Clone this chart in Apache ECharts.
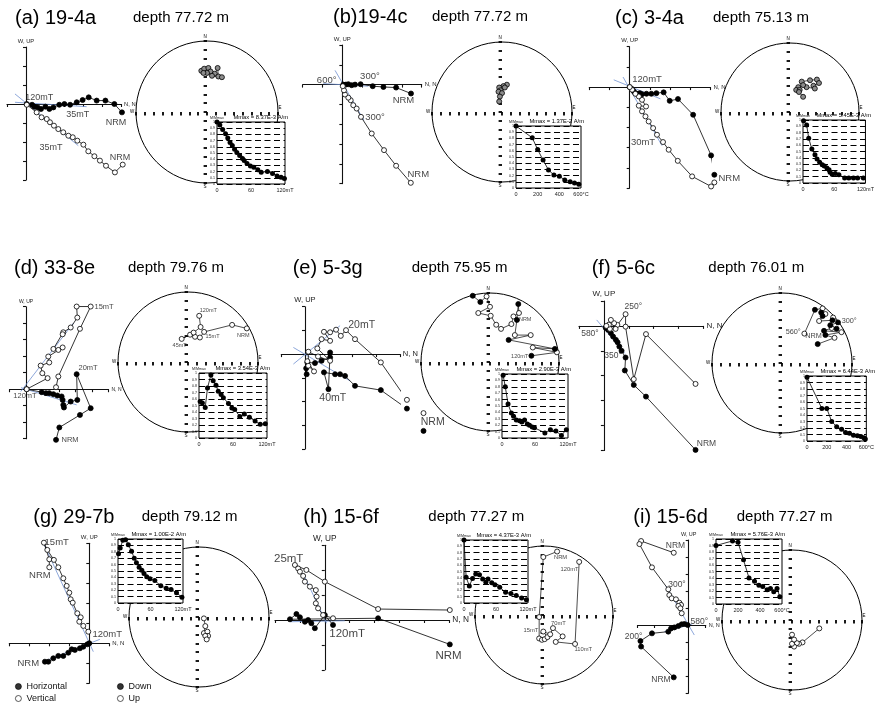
<!DOCTYPE html>
<html>
<head>
<meta charset="utf-8">
<script src="https://cdn.jsdelivr.net/npm/echarts@6/dist/echarts.min.js"></script>
<style>
  html, body { margin: 0; padding: 0; background: #fff; }
  #main { width: 877px; height: 708px; }
</style>
</head>
<body>
<div id="main"></div>
<script>
// ---- panel texts ----
var tags   = ['(a) 19-4a', '(b)19-4c', '(c) 3-4a', '(d) 33-8e', '(e) 5-3g', '(f) 5-6c', '(g) 29-7b', '(h) 15-6f', '(i) 15-6d'];
var depths = ['77.72', '77.72', '75.13', '79.76', '75.95', '76.01', '79.12', '77.27', '77.27'];
var mmax   = ['8.37E-3', '1.37E-2', '5.45E-3', '3.54E-3', '2.90E-3', '6.44E-3', '1.00E-2', '4.37E-3', '5.76E-3'];
var afTicks = [0, 60, 120];        // mT
var thTicks = [0, 200, 400, 600];  // °C
var intTicks = [0, 0.1, 1];        // min, step, max of M/Mmax
var netTicks = [-1, 0.125, 1];     // cross marks of the net

// ---- Zijderveld data (tick units): horizontal = filled, vertical = open ----
var horA = [[5.05,-0.44],[4.65,0],[4.18,0.18],[3.72,0.18],[3.3,0.35],[2.98,0.21],[2.67,0.09],[2.32,-0.04],[2.02,0],[1.75,-0.04],[1.44,-0.18],[1.23,-0.26],[1.02,-0.14],[0.79,-0.26],[0.61,-0.18],[0.44,-0.14],[0.32,-0.04],[0.04,0]];
var verA = [[5.09,-3.19],[4.68,-3.6],[4.21,-3.25],[3.89,-2.98],[3.6,-2.75],[3.28,-2.49],[3.02,-2.14],[2.7,-1.93],[2.46,-1.75],[2.23,-1.67],[1.96,-1.49],[1.7,-1.32],[1.47,-1.14],[1.26,-0.96],[1.09,-0.79],[0.82,-0.7],[0.56,-0.44],[0.04,-0.04]];
var fitA = [[[-0.58,0.53],[2.75,-2.19]],[[-0.58,0.09],[3.19,-0.14]]];
var labA = [[0.7,0.35,'120mT'],[2.72,-0.53,'35mT'],[4.74,-0.96,'NRM'],[1.32,-2.28,'35mT'],[4.95,-2.81,'NRM']];

var horB = [[3.46,-0.45],[2.71,-0.15],[2.07,-0.12],[1.53,-0.08],[0.92,0.02],[0.64,0],[0.47,-0.03],[0.3,0.02],[0.18,0],[0.05,0]];
var verB = [[3.45,-4.96],[2.71,-4.1],[2.1,-3.31],[1.48,-2.47],[0.94,-1.63],[0.72,-1.21],[0.55,-1.04],[0.42,-0.79],[0.3,-0.66],[0.13,-0.5],[0.08,-0.29],[0.02,-0.08]];
var fitB = [[[-0.37,0.72],[1.09,-1.8]],[[-0.96,0.05],[1.31,-0.08]]];
var labB = [[-0.79,0.22,'600°'],[1.39,0.42,'300°'],[3.08,-0.79,'NRM'],[1.65,-1.66,'300°'],[3.83,-4.52,'NRM']];

var horC = [[4.19,-4.34],[4.03,-3.38],[3.14,-1.37],[2.39,-0.59],[1.98,-0.68],[1.68,-0.26],[1.32,-0.3],[1.07,-0.33],[0.83,-0.33],[0.61,-0.35],[0.5,-0.3],[0.36,-0.33],[0.28,-0.3],[0.2,-0.21],[0.12,-0.1],[0,0]];
var verC = [[4.19,-4.72],[4.03,-4.92],[3.09,-4.42],[2.38,-3.65],[1.93,-3.1],[1.65,-2.72],[1.35,-2.36],[1.16,-2.03],[0.94,-1.7],[0.78,-1.45],[0.61,-1.2],[0.45,-0.92],[0.81,-0.96],[0.61,-0.63],[0.45,-0.46],[0.28,-0.33],[0.12,-0.13],[0,0]];
var fitC = [[[-0.33,0.5],[1.6,-2.9]],[[-0.79,0.36],[1.52,-0.58]]];
var labC = [[0.86,0.36,'120mT'],[0.66,-2.74,'30mT'],[4.93,-4.5,'NRM']];

var horD = [[1.82,-3.07],[2.02,-2.32],[3.27,-1.56],[3.92,-1.15],[3.07,0.91],[3.11,-0.65],[2.71,-0.75],[2.3,-1.11],[2.26,-0.95],[2.22,-0.65],[2.16,-0.44],[1.9,-0.38],[1.66,-0.3],[1.41,-0.24],[1.21,-0.24],[0.95,-0.18],[0.04,0]];
var verD = [[1.82,0.12],[1.96,0.77],[3.27,3.66],[3.92,5.01],[3.07,5.01],[3.11,4.34],[2.71,3.74],[2.26,3.45],[2.22,3.33],[1.66,2.44],[1.96,2.38],[2.22,2.53],[1.35,1.98],[1.41,1.62],[0.89,1.43],[0.99,0.97],[1.31,0.67],[0.04,0]];
var fitD = [[[-0.32,-0.14],[2.87,4.0]],[[-0.3,0.09],[3.07,-0.95]]];
var labD = [[4.73,5.01,'15mT'],[3.76,1.31,'20mT'],[-0.06,-0.38,'120mT'],[2.67,-3.07,'NRM']];

var horE = [[5.0,-3.24],[4.3,-2.3],[3.2,-1.52],[2.11,-1.34],[1.69,-0.92],[1.48,-0.85],[1.27,-0.85],[0.8,-0.77],[0.99,-1.48],[1.06,0.07],[1.06,-0.14],[0.7,-0.28],[0.42,-0.38],[0.1,-0.35],[0.07,-0.85],[0.05,-0.6]];
var verE = [[5.0,-2.49],[4.3,-1.93],[3.2,-0.35],[2.11,0.63],[1.73,1.01],[1.51,0.77],[1.31,1.03],[1.06,0.92],[0.8,0.94],[1.06,0.56],[0.7,0.63],[0.52,0.24],[1.06,-0.28],[0.55,-0.1],[0.14,0.1],[0.14,-0.49],[0.38,-0.73],[0.1,-0.3]];
var fitE = [[[-0.49,-0.42],[1.48,1.2]],[[-0.49,0.28],[1.9,-1.13]]];
var labE = [[2.39,1.23,'20mT'],[1.17,-1.87,'40mT'],[5.39,-2.89,'NRM']];

var horF = [[3.68,-4.98],[1.69,-2.84],[1.2,-2.37],[0.84,-1.79],[0.87,-1.27],[0.71,-1.0],[0.62,-0.83],[0.55,-0.66],[0.48,-0.56],[0.37,-0.43],[0.28,-0.29],[0.17,-0.16],[0.07,-0.07]];
var verF = [[3.68,-2.33],[1.69,-0.33],[1.2,-2.14],[0.87,-0.03],[0.87,0.47],[0.54,0.04],[0.41,0.11],[0.28,0.24],[0.47,-0.12],[0.24,-0.12],[0.2,0.05],[0.1,0]];
var fitF = [[[-0.29,0.24],[0.84,-1.1]]];
var labF = [[1.18,0.78,'250°'],[-0.56,-0.33,'580°'],[0.37,-1.19,'350°'],[4.12,-4.71,'NRM']];

var horG = [[-2.22,-0.92],[-2.05,-0.92],[-1.8,-0.75],[-1.55,-0.63],[-1.3,-0.63],[-1.05,-0.47],[-0.88,-0.3],[-0.72,-0.33],[-0.47,-0.25],[-0.3,-0.17],[-0.1,-0.05],[0,0]];
var verG = [[-2.0,3.8],[-2.0,4.2],[-2.27,5.03],[-2.1,4.67],[-1.77,4.17],[-1.55,3.8],[-1.3,3.25],[-1.13,2.87],[-1.0,2.53],[-0.93,2.2],[-0.83,2.03],[-0.6,1.5],[-0.43,1.3],[-0.5,1.08],[-0.3,0.87],[-0.05,0.58]];
var fitG = [[[-2.27,4.97],[0.2,-0.42]],[[-2.3,-0.92],[0.53,0.2]]];
var labG = [[-1.63,5.03,'15mT'],[-2.47,3.42,'NRM'],[0.9,0.47,'120mT'],[-3.05,-1.0,'NRM']];

var horH = [[5.02,-0.98],[2.14,0.07],[-1.4,0.03],[-1.14,0.24],[-1.0,0.11],[-0.8,-0.07],[-0.67,0],[-0.54,-0.13],[-0.4,-0.33],[0,0.2],[0.33,-0.2]];
var verH = [[5.02,0.4],[2.14,0.44],[0,1.54],[-0.74,2.01],[-1.2,2.21],[-1.07,2.07],[-1.0,1.94],[-0.87,1.77],[-0.8,1.54],[-0.6,1.34],[-0.36,1.2],[-0.33,0.94],[-0.36,0.67],[-0.27,0.47],[-0.07,0.2],[0.33,0.07]];
var fitH = [[[-0.87,1.87],[0.07,-0.13]],[[-1.4,-0.07],[0.8,-0.03]]];
var labH = [[-1.45,2.45,'25mT'],[0.9,-0.56,'120mT'],[4.97,-1.45,'NRM']];

var horI = [[-0.88,-3.08],[-2.8,-1.27],[-2.84,-0.94],[-2.16,-0.49],[-1.2,-0.39],[-1.04,-0.2],[-0.84,-0.14],[-0.61,-0.06],[-0.41,0.04],[-0.25,0.06],[-0.06,0]];
var verI = [[-0.88,4.25],[-2.8,4.94],[-2.9,4.76],[-2.16,3.39],[-1.2,2.1],[-1.14,1.76],[-1.0,1.57],[-0.75,1.51],[-0.55,1.31],[-0.45,1.18],[-0.61,1.12],[-0.49,0.98],[-0.41,0.69]];
var fitI = [[[-1.33,2.29],[0.33,-0.59]],[[-1.43,-0.39],[0.2,0.05]]];
var labI = [[-0.78,4.65,'NRM'],[-0.69,2.35,'300°'],[0.63,0.2,'580°'],[-3.24,-0.69,'200°'],[-1.63,-3.2,'NRM']];

// ---- equal-area net [east, north, kind] kind: 0 up (open), 1 down (filled), 2 down (grey) ----
var netA = [[-0.08,0.58,2],[-0.04,0.61,2],[0.02,0.62,2],[0.05,0.57,2],[0.11,0.54,2],[0.15,0.62,2],[0.16,0.5,2],[0.21,0.49,2],[0.07,0.51,2],[0,0.55,2],[-0.05,0.55,2]];
var netB = [[0.07,0.39,2],[0.02,0.37,2],[-0.04,0.35,2],[0.04,0.35,2],[-0.02,0.31,2],[-0.05,0.29,2],[0,0.27,2],[-0.03,0.22,2],[-0.04,0.15,2]];
var netC = [[0.17,0.44,2],[0.29,0.46,2],[0.39,0.47,2],[0.42,0.42,2],[0.34,0.38,2],[0.36,0.34,2],[0.24,0.36,2],[0.19,0.39,2],[0.12,0.36,2],[0.09,0.32,2],[0.14,0.32,2],[0.13,0.29,2],[0.19,0.22,2]];
var netD = [[0.84,0.48,0],[0.63,0.53,0],[0.23,0.43,0],[0.17,0.35,0],[0.1,0.36,0],[0.03,0.39,0],[-0.09,0.33,0],[0.08,0.42,0],[0.18,0.5,0],[0.16,0.66,0]];
var netE = [[-0.25,0.96,1],[-0.14,0.87,1],[-0.05,0.95,0],[0,0.8,0],[-0.17,0.71,0],[0.01,0.67,0],[0.09,0.54,0],[0.16,0.48,0],[0.31,0.55,0],[0.34,0.66,0],[0.42,0.71,0],[0.41,0.84,1],[0.39,0.61,1],[0.36,0.39,0],[0.59,0.39,0],[0.27,0.32,1],[0.94,0.19,1],[0.62,0.21,0],[0.97,0.14,0],[0.6,0.09,1]];
var netF = [[0.51,0.27,1],[0.75,0.36,0],[0.62,0.4,1],[0.85,0.44,0],[0.6,0.46,1],[0.71,0.5,0],[0.78,0.49,1],[0.69,0.54,1],[0.8,0.58,1],[0.73,0.65,0],[0.72,0.61,1],[0.53,0.6,0],[0.58,0.67,1],[0.62,0.7,0],[0.56,0.72,1],[0.58,0.78,0],[0.47,0.76,1],[0.32,0.42,0]];
var netG = [[0.07,-0.02,0],[0.09,-0.13,0],[0.07,-0.23,0],[0.12,-0.21,0],[0.13,-0.27,0],[0.09,-0.27,0],[0.11,-0.32,0]];
var netH = [[0.19,0.92,0],[-0.01,0.84,0],[-0.07,-0.03,0],[-0.07,-0.34,0],[-0.03,-0.36,0],[0.01,-0.35,0],[0.05,-0.32,0],[-0.01,-0.24,0],[0.09,-0.28,0],[0.13,-0.19,0],[0.27,-0.31,0],[0.17,-0.39,0],[0.45,-0.42,0],[0.51,0.77,0]];
var netI = [[0.39,-0.12,0],[0.15,-0.32,0],[0.1,-0.34,0],[0.07,-0.33,0],[0.03,-0.38,0],[0,-0.34,0],[0.03,-0.28,0],[0,-0.21,0]];
var netLabD = [[0.29,0.74,'120mT'],[0.35,0.37,'15mT'],[-0.12,0.24,'45mT'],[0.79,0.38,'NRM']];
var netLabE = [[0.51,0.61,'NRM'],[0.43,0.08,'120mT']];
var netLabF = [[0.96,0.6,'300°'],[0.16,0.44,'560°'],[0.45,0.39,'NRM']];
var netLabH = [[0.24,0.84,'NRM'],[0.37,0.66,'120mT'],[0.21,-0.12,'70mT'],[-0.19,-0.23,'15mT'],[0.57,-0.5,'110mT']];

// ---- intensity decay: step (mT or °C) and M/Mmax ----
var stepA = [0,5,10,15,19,23,27,31,35,40,45,48,53,59,65,72,78,89,98,106,113,119];
var intA  = [1,0.95,0.88,0.81,0.74,0.67,0.62,0.56,0.51,0.46,0.41,0.38,0.33,0.29,0.27,0.23,0.19,0.2,0.17,0.13,0.11,0.09];
var stepB = [0,150,200,250,300,350,400,450,500,540,580];
var intB  = [1,0.81,0.62,0.45,0.29,0.21,0.19,0.13,0.1,0.08,0.06];
var stepC = [1,7,11,17,23,27,32,37,41,46,50,52,56,62,69,80,88,97,105,116];
var intC  = [0.99,0.92,0.71,0.54,0.45,0.38,0.33,0.29,0.27,0.24,0.21,0.17,0.14,0.15,0.13,0.08,0.08,0.08,0.08,0.08];
var stepD = [2,6,11,15,21,25,30,34,39,43,52,58,63,72,80,89,99,108,117];
var intD  = [0.56,0.54,0.47,0.77,0.97,0.88,0.81,0.72,0.67,0.62,0.53,0.46,0.44,0.33,0.37,0.32,0.26,0.21,0.22];
var stepE = [2,6,11,17,21,26,32,36,41,46,50,55,59,78,88,98,108,117];
var intE  = [0.98,0.8,0.53,0.39,0.34,0.28,0.27,0.25,0.28,0.22,0.2,0.17,0.16,0.08,0.13,0.11,0.04,0.13];
var stepF = [0,150,200,250,300,350,390,430,470,510,545,575,590];
var intF  = [0.98,0.5,0.5,0.3,0.22,0.18,0.13,0.12,0.09,0.08,0.07,0.05,0.03];
var stepG = [1,4,9,14,19,25,30,34,39,44,48,53,59,68,79,89,98,108,118];
var intG  = [0.77,0.86,0.98,0.99,0.91,0.81,0.7,0.63,0.56,0.51,0.46,0.41,0.38,0.35,0.27,0.23,0.21,0.16,0.09];
var stepH = [0,4,10,16,22,29,35,41,45,52,58,67,78,88,98,108,117];
var intH  = [1,0.41,0.27,0.39,0.46,0.45,0.38,0.33,0.38,0.32,0.29,0.25,0.17,0.15,0.12,0.08,0.05];
var stepI = [0,150,200,250,300,350,390,425,465,495,525,555,580];
var intI  = [0.9,0.97,0.95,0.68,0.4,0.35,0.29,0.27,0.22,0.24,0.19,0.24,0.11];

// ---- layout (pixels) ----
var panels = [
  {tag:[15,18], dep:[133,18], zb:[7,47,114,133], zx:[-1,5], zy:[-4,3], net:[207,112,71], dec:[217,122,68,62], lf:9, af:5.8, nf:5,
   hor:horA, ver:verA, fit:fitA, lab:labA, pts:netA, nlab:null, step:stepA, val:intA, th:false},
  {tag:[333,17], dep:[432,17], zb:[302.7,45,119,138.6], zx:[-2,4], zy:[-5,2], net:[502,112,70], dec:[516,126,65,62], lf:9.5, af:6, nf:5,
   hor:horB, ver:verB, fit:fitB, lab:labB, pts:netB, nlab:null, step:stepB, val:intB, th:true},
  {tag:[615,18], dep:[713,18], zb:[589.3,46.7,121.2,141.4], zx:[-2,4], zy:[-5,2], net:[790,112,69], dec:[803,120,65,63], lf:9.5, af:6, nf:5,
   hor:horC, ver:verC, fit:fitC, lab:labC, pts:netC, nlab:null, step:stepC, val:intC, th:false},
  {tag:[14,268], dep:[128,268], zb:[9.5,306.7,99,132], zx:[-1,5], zy:[-3,5], net:[188,362,70], dec:[199,373,68,65], lf:7.5, af:5, nf:5.5,
   hor:horD, ver:verD, fit:fitD, lab:labD, pts:netD, nlab:netLabD, step:stepD, val:intD, th:false},
  {tag:[292.7,268], dep:[411.7,268], zb:[281.3,306.7,118.5,142.2], zx:[-1,4], zy:[-4,2], net:[490,362,69], dec:[502,374,66,64], lf:10.5, af:7.5, nf:5.5,
   hor:horE, ver:verE, fit:fitE, lab:labE, pts:netE, nlab:netLabE, step:stepE, val:intE, th:false},
  {tag:[591.7,268], dep:[708.3,268], zb:[579,301,124.5,149.4], zx:[-1,4], zy:[-5,1], net:[782,363,70], dec:[807,376,65,65], lf:8.5, af:8, nf:7.3,
   hor:horF, ver:verF, fit:fitF, lab:labF, pts:netF, nlab:netLabF, step:stepF, val:intF, th:true},
  {tag:[33.3,517], dep:[141.7,517], zb:[9.3,543.3,100,140], zx:[-4,1], zy:[-2,5], net:[199,617,70], dec:[118,539,65,64], lf:9.5, af:6, nf:5.5,
   hor:horG, ver:verG, fit:fitG, lab:labG, pts:netG, nlab:null, step:stepG, val:intG, th:false},
  {tag:[303.3,517], dep:[428.3,517], zb:[275,545.3,174.3,124.5], zx:[-2,5], zy:[-2,3], net:[544,615,69], dec:[464,540,64,63], lf:11.5, af:8.3, nf:5.8,
   hor:horH, ver:verH, fit:fitH, lab:labH, pts:netH, nlab:netLabH, step:stepH, val:intH, th:false},
  {tag:[633.3,517], dep:[736.7,517], zb:[637.7,540,68,153], zx:[-3,1], zy:[-4,5], net:[792,620,70], dec:[716,539,66,65], lf:8.5, af:5.5, nf:5.5,
   hor:horI, ver:verI, fit:fitI, lab:labI, pts:netI, nlab:null, step:stepI, val:intI, th:true}
];

var FONT = '"Liberation Sans", Arial, sans-serif';
var BLUE = '#7090d0';
var grid = [], xAxis = [], yAxis = [], series = [], polar = [], angleAxis = [], radiusAxis = [], graphic = [];

function text(x, y, s, size, align) {
  graphic.push({type: 'text', x: x, y: y, z: 100, silent: true,
    style: {text: s, fontSize: size, fontFamily: FONT, fill: '#000',
            textAlign: align || 'left', textVerticalAlign: 'middle', align: align || 'left', verticalAlign: 'middle'}});
}

function pathLine(xi, yi, data, fill, size, z) {
  series.push({type: 'line', xAxisIndex: xi, yAxisIndex: yi, data: data, clip: false, silent: true,
    symbol: size ? 'circle' : 'none', symbolSize: size,
    lineStyle: {color: fill === BLUE ? BLUE : '#000', width: 0.8},
    itemStyle: {color: fill, borderColor: '#000', borderWidth: 0.8}, z: z || 3});
}

function labels(xi, yi, arr, size) {
  series.push({type: 'scatter', xAxisIndex: xi, yAxisIndex: yi, clip: false, silent: true, symbolSize: 1,
    itemStyle: {color: 'rgba(0,0,0,0)'},
    data: arr.map(function (p) { return {value: [p[0], p[1]], name: p[2]}; }),
    label: {show: true, position: 'inside', formatter: '{b}', fontSize: size, fontFamily: FONT, color: '#111'}, z: 6});
}

function zij(P) {
  var g = grid.length;
  grid.push({left: P.zb[0], top: P.zb[1], width: P.zb[2], height: P.zb[3]});
  function ax(r, name) {
    return {gridIndex: g, type: 'value', min: r[0], max: r[1], interval: 1, name: name, nameLocation: 'end', nameGap: 3,
      nameTextStyle: {fontSize: P.af, fontFamily: FONT, color: '#222'},
      axisLine: {onZero: true, lineStyle: {color: '#111', width: 1.1}},
      axisTick: {show: true, length: 3, lineStyle: {color: '#111', width: 1.1}},
      axisLabel: {show: false}, splitLine: {show: false}};
  }
  xAxis.push(ax(P.zx, 'N, N'));
  yAxis.push(ax(P.zy, 'W, UP'));
  var xi = xAxis.length - 1, yi = yAxis.length - 1;
  P.fit.forEach(function (f) { pathLine(xi, yi, f, BLUE, 0, 2); });
  pathLine(xi, yi, P.hor, '#000', 5, 3);
  pathLine(xi, yi, P.ver, '#fff', 5, 4);
  labels(xi, yi, P.lab, P.lf);
}

function net(P) {
  var cx = P.net[0], cy = P.net[1], r = P.net[2];
  var g = grid.length;
  grid.push({left: cx - r, top: cy - r, width: 2 * r, height: 2 * r});
  function ax() {
    // the cross is drawn as ticks only, on an invisible line through the centre
    return {gridIndex: g, type: 'value', min: netTicks[0], max: netTicks[2], interval: netTicks[1], z: 1,
      axisLine: {show: true, onZero: true, lineStyle: {color: '#000', width: 1, opacity: 0}},
      axisTick: {show: true, length: 3.4, lineStyle: {color: '#000', width: 1.8}},
      axisLabel: {show: false}, splitLine: {show: false}};
  }
  xAxis.push(ax()); yAxis.push(ax());
  var xi = xAxis.length - 1, yi = yAxis.length - 1;
  var k = polar.length;
  polar.push({center: [cx, cy], radius: r});
  angleAxis.push({polarIndex: k, type: 'value', min: 0, max: 360, z: 1,
    axisLine: {lineStyle: {color: '#000', width: 1}}, axisTick: {show: false}, axisLabel: {show: false}, splitLine: {show: false}});
  radiusAxis.push({polarIndex: k, type: 'value', min: 0, max: 1,
    axisLine: {show: false}, axisTick: {show: false}, axisLabel: {show: false}, splitLine: {show: false}});
  series.push({type: 'scatter', coordinateSystem: 'polar', polarIndex: k, data: []});
  series.push({type: 'line', xAxisIndex: xi, yAxisIndex: yi, silent: true, symbol: 'none',
    data: P.pts.map(function (p) { return [p[0], p[1]]; }), lineStyle: {color: '#000', width: 0.7}, z: 3});
  var fills = ['#fff', '#000', '#8c8c8c'];
  [0, 1, 2].forEach(function (kind) {
    var sub = P.pts.filter(function (p) { return p[2] === kind; });
    if (!sub.length) return;
    series.push({type: 'scatter', xAxisIndex: xi, yAxisIndex: yi, silent: true, symbolSize: 5,
      data: sub.map(function (p) { return [p[0], p[1]]; }),
      itemStyle: {color: fills[kind], borderColor: '#000', borderWidth: 0.8, opacity: 1}, z: 4});
  });
  if (P.nlab) labels(xi, yi, P.nlab, P.nf);
  text(cx - 2, cy - r - 4, 'N', 4.5, 'center');
  text(cx - 2, cy + r + 4, 'S', 4.5, 'center');
  text(cx - r - 4, cy, 'W', 4.5, 'center');
  text(cx + r + 2, cy - 4, 'E', 4.5, 'center');
}

function decay(P, i) {
  var b = P.dec, ticks = P.th ? thTicks : afTicks, unit = P.th ? '°C' : 'mT';
  var xMax = ticks[ticks.length - 1];
  var g = grid.length;
  grid.push({left: b[0], top: b[1], width: b[2], height: b[3], show: true, backgroundColor: '#fff',
    borderColor: '#000', borderWidth: 1, z: 5});
  xAxis.push({gridIndex: g, type: 'value', min: ticks[0], max: xMax, interval: ticks[1] - ticks[0], z: 6,
    axisLine: {show: false}, axisTick: {show: false}, splitLine: {show: false},
    axisLabel: {fontSize: 5.5, fontFamily: FONT, color: '#222', margin: 3,
      formatter: function (v) { return v === xMax ? v + unit : String(v); }}});
  yAxis.push({gridIndex: g, type: 'value', min: intTicks[0], max: intTicks[2], interval: intTicks[1], z: 6,
    name: 'M/Mmax', nameLocation: 'end', nameGap: 2,
    nameTextStyle: {fontSize: 3.6, fontFamily: FONT, color: '#222', align: 'center'},
    axisLine: {show: false}, axisTick: {show: false},
    axisLabel: {fontSize: 3.6, fontFamily: FONT, color: '#222', margin: 2},
    splitLine: {show: true, lineStyle: {color: '#000', width: 1.2, type: [6, 3.5]}}});
  var xi = xAxis.length - 1, yi = yAxis.length - 1;
  series.push({type: 'line', xAxisIndex: xi, yAxisIndex: yi, silent: true, clip: false,
    data: P.step.map(function (s, j) { return [s, P.val[j]]; }),
    symbol: 'circle', symbolSize: 5, lineStyle: {color: '#000', width: 0.8},
    itemStyle: {color: '#000'}, z: 7});
  text(b[0] + b[2] + 3, b[1] - 5, 'Mmax = ' + mmax[i] + ' A/m', 5.8, 'right');
}

panels.forEach(function (P, i) {
  text(P.tag[0], P.tag[1], tags[i], 20, 'left');
  text(P.dep[0], P.dep[1], 'depth ' + depths[i] + ' m', 15, 'left');
  zij(P);
  net(P);
  decay(P, i);
});

// legend entries (symbols only)
['Horizontal', 'Vertical', 'Down', 'Up'].forEach(function (n) {
  series.push({type: 'scatter', name: n, xAxisIndex: 0, yAxisIndex: 0, data: []});
});
function legendAt(left, names) {
  return {left: left, top: 682, orient: 'vertical', itemGap: 3, itemWidth: 6, itemHeight: 6, padding: 0,
    icon: 'circle', selectedMode: false, textStyle: {fontSize: 9, fontFamily: FONT, color: '#111'},
    data: [{name: names[0], itemStyle: {color: '#000', borderColor: '#000', borderWidth: 0.8}},
           {name: names[1], itemStyle: {color: '#fff', borderColor: '#000', borderWidth: 0.8}}]};
}

var chart = echarts.init(document.getElementById('main'));
chart.setOption({
  backgroundColor: '#fff',
  animation: false,
  grid: grid, xAxis: xAxis, yAxis: yAxis,
  polar: polar, angleAxis: angleAxis, radiusAxis: radiusAxis,
  legend: [legendAt(15, ['Horizontal', 'Vertical']), legendAt(117, ['Down', 'Up'])],
  series: series,
  graphic: graphic
});
</script>
</body>
</html>
